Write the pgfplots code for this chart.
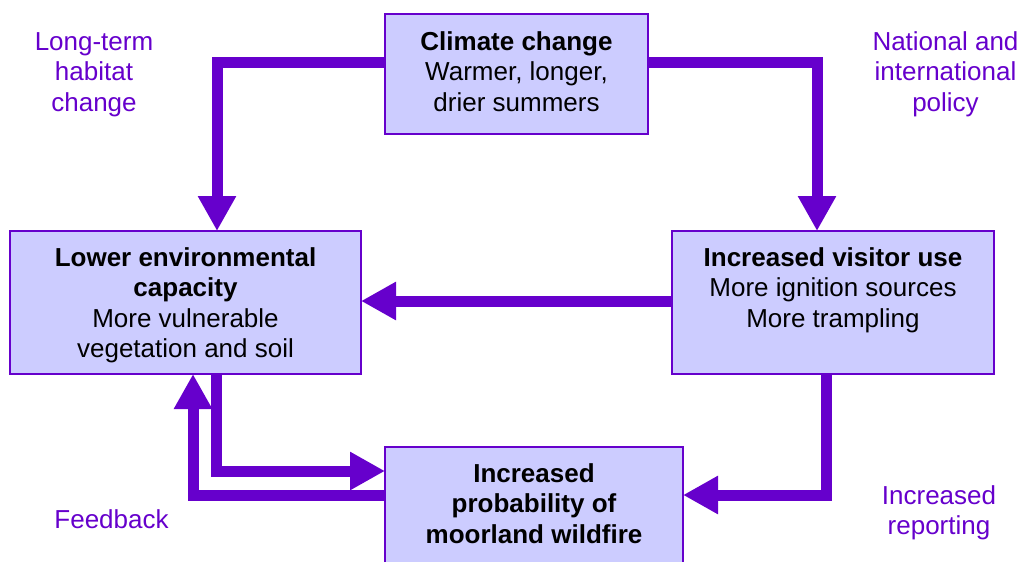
\documentclass[border=0pt]{standalone}
\usepackage{pgfplots}
\pgfplotsset{compat=1.18}
\usepackage{fontspec}
\setmainfont{Liberation Sans}
\usetikzlibrary{arrows.meta}
\definecolor{arrowpurple}{HTML}{6600CC}
\definecolor{boxfill}{HTML}{CCCCFF}
\newcommand{\bigf}{\fontsize{26bp}{30.5bp}\selectfont}
\tikzset{t/.style={anchor=base, inner sep=0pt, font=\bigf},
         p/.style={t, text=arrowpurple}}
\begin{document}
\begin{tikzpicture}
\begin{axis}[
  width=1023bp, height=562bp, scale only axis,
  xmin=0, xmax=1023, ymin=0, ymax=562, y dir=reverse,
  hide axis, clip=false,
]
% extent of the picture
\addplot[draw=none, forget plot] coordinates {(0,0) (1023,562)};
% boxes
\addplot[fill=boxfill, draw=arrowpurple, line width=2bp, line join=miter] coordinates {(385,14) (648,14) (648,134) (385,134)} -- cycle;
\addplot[fill=boxfill, draw=arrowpurple, line width=2bp, line join=miter] coordinates {(10,231) (361,231) (361,374) (10,374)} -- cycle;
\addplot[fill=boxfill, draw=arrowpurple, line width=2bp, line join=miter] coordinates {(672,231) (994,231) (994,374) (672,374)} -- cycle;
\addplot[fill=boxfill, draw=arrowpurple, line width=2bp, line join=miter] coordinates {(385,562) (385,447) (683,447) (683,562)};
% arrows
\pgfplotsset{myarrow/.style={draw=arrowpurple, line width=11bp, line join=miter, -{Triangle[width=36bp,length=35bp]}}}
\addplot[myarrow] coordinates {(385,62.5) (217,62.5) (217,231)};
\addplot[myarrow] coordinates {(648,62.5) (817,62.5) (817,231)};
\addplot[myarrow] coordinates {(672,301) (361,301)};
\addplot[myarrow] coordinates {(826,375) (826,495) (683,495)};
\addplot[myarrow] coordinates {(216.5,375) (216.5,471) (385,471)};
\addplot[myarrow] coordinates {(385,495) (193,495) (193,374)};
% box texts
\node[t] at (axis cs:516.5,50.5) {\bfseries Climate change};
\node[t] at (axis cs:516.5,81) {Warmer, longer,};
\node[t] at (axis cs:516.5,111.5) {drier summers};
\node[t] at (axis cs:185.5,266) {\bfseries Lower environmental};
\node[t] at (axis cs:185.5,296.5) {\bfseries capacity};
\node[t] at (axis cs:185.5,327) {More vulnerable};
\node[t] at (axis cs:185.5,357.5) {vegetation and soil};
\node[t] at (axis cs:833,266) {\bfseries Increased visitor use};
\node[t] at (axis cs:833,296.5) {More ignition sources};
\node[t] at (axis cs:833,327) {More trampling};
\node[t] at (axis cs:534,482) {\bfseries Increased};
\node[t] at (axis cs:534,512.5) {\bfseries probability of};
\node[t] at (axis cs:534,543) {\bfseries moorland wildfire};
% side labels
\node[p] at (axis cs:94,50.5) {Long-term};
\node[p] at (axis cs:94,81) {habitat};
\node[p] at (axis cs:94,111.5) {change};
\node[p] at (axis cs:945.5,50.5) {National and};
\node[p] at (axis cs:945.5,81) {international};
\node[p] at (axis cs:945.5,111.5) {policy};
\node[p] at (axis cs:111.5,528.5) {Feedback};
\node[p] at (axis cs:939,504.5) {Increased};
\node[p] at (axis cs:939,534.5) {reporting};
\end{axis}
\end{tikzpicture}
\end{document}
